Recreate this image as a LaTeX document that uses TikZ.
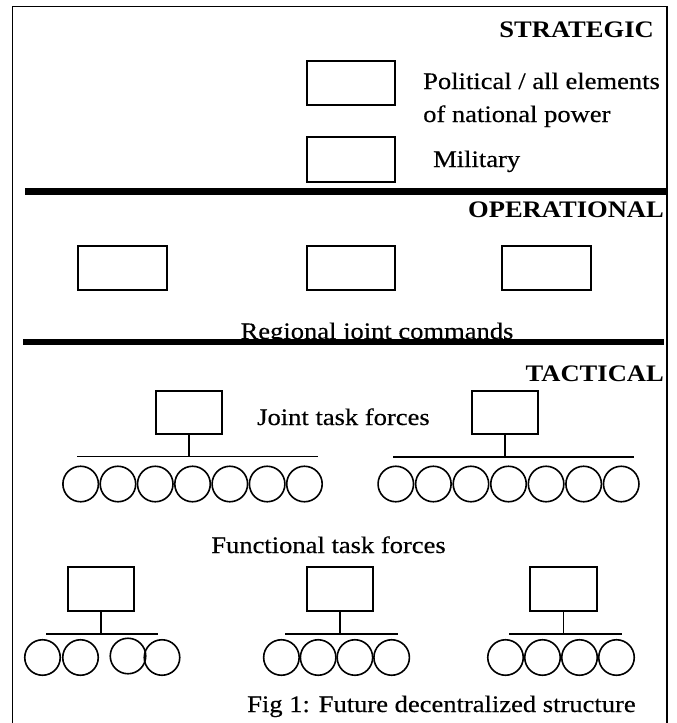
\documentclass[tikz,border=0pt]{standalone}
\usepackage{fontspec}
\setmainfont[FakeStretch=1.12]{Liberation Serif}
\newfontfamily\regfont[FakeStretch=1.12,FakeBold=0.4]{Liberation Serif}
\begin{document}
\begin{tikzpicture}[x=1pt,y=-1pt,
  lbl/.style={inner sep=0pt,font=\regfont\fontsize{23.7}{28}\selectfont},
  blbl/.style={inner sep=0pt,font=\fontsize{23.7}{28}\selectfont\bfseries},
  ubox/.style={draw,line width=1.7pt,minimum width=#1,inner sep=0pt},
  ubox/.default=88pt,
  unit/.style={draw,circle,line width=1.6pt,minimum size=35.5pt,inner sep=0pt},
  thin/.style={line width=1.6pt},
  thick/.style={line width=6.5pt}]
\useasboundingbox (0,0) rectangle (677,723);
% frame
\draw[thin] (12.5,723) -- (12.5,6.5) -- (667,6.5) -- (667,723);
% level separators
\coordinate (s1l) at (25,191.5);  \coordinate (s1r) at (666,191.5);
\coordinate (s2l) at (23,342);    \coordinate (s2r) at (664,342);
\draw[thick] (s1l) -- (s1r);
\draw[thick] (s2l) -- (s2r);
% level titles
\node[blbl,anchor=base east] (strat) at (654,37) {STRATEGIC};
\node[blbl,anchor=base east] (oper) at (664,217) {OPERATIONAL};
\node[blbl,anchor=base east] (tact) at (664,381) {TACTICAL};
% strategic
\node[ubox,minimum height=44pt] (pbox) at (351,83) {};
\node[ubox,minimum height=45pt] (mbox) at (351,159.5) {};
\node[lbl,anchor=base west] (pol1) at (423,89) {Political / all elements};
\node[lbl,anchor=base west] (pol2) at (423,122) {of national power};
\node[lbl,anchor=base west] (mil) at (433,167) {Military};
% operational
\node[ubox=89pt,minimum height=44pt] (r1) at (122.5,268) {};
\node[ubox=88pt,minimum height=44pt] (r2) at (351,268) {};
\node[ubox=89pt,minimum height=44pt] (r3) at (546.5,268) {};
\node[lbl,anchor=base] (reg) at (377,339) {Regional joint commands};
% tactical: joint task forces
\node[ubox=66pt,minimum height=43pt] (j1) at (189,412.5) {};
\node[ubox=66pt,minimum height=43pt] (j2) at (505,412.5) {};
\node[lbl,anchor=base west] (jtf) at (257,425) {Joint task forces};
\coordinate (j1l) at (77,456.5);  \coordinate (j1r) at (318,456.5);
\coordinate (j2l) at (393,457);   \coordinate (j2r) at (634,457);
\draw[thin] (j1l) -- (j1r);
\draw[thin] (j2l) -- (j2r);
\draw[thin] (j1.south) -- (j1.south |- j1l);
\draw[thin] (j2.south) -- (j2.south |- j2l);
\foreach \k in {0,...,6}{
  \node[unit] (ja\k) at ({80.65+37.3*\k},484) {};
  \node[unit] (jb\k) at ({395.8+37.57*\k},484) {};
}
% functional task forces
\node[lbl,anchor=base] (ftf) at (328.5,553) {Functional task forces};
\node[ubox=66pt,minimum height=44pt] (f1) at (101,589) {};
\node[ubox=66pt,minimum height=44pt] (f2) at (340,589) {};
\node[ubox=67pt,minimum height=44pt] (f3) at (563.5,589) {};
\coordinate (f1l) at (46,634);  \coordinate (f1r) at (158,634);
\coordinate (f2l) at (285,634); \coordinate (f2r) at (398,634);
\coordinate (f3l) at (509,634); \coordinate (f3r) at (622,634);
\draw[thin] (f1l) -- (f1r);
\draw[thin] (f2l) -- (f2r);
\draw[thin] (f3l) -- (f3r);
\draw[thin] (f1.south) -- (f1.south |- f1l);
\draw[thin] (f2.south) -- (f2.south |- f2l);
\draw[thin] (f3.south) -- (f3.south |- f3l);
\node[unit] (fa0) at (42.5,657.5) {};
\node[unit] (fa1) at (80.5,657.5) {};
\node[unit] (fa2) at (128,656) {};
\node[unit] (fa3) at (162,657.5) {};
\foreach \k in {0,...,3}{
  \node[unit] (fb\k) at ({281.4+36.75*\k},657.5) {};
  \node[unit] (fc\k) at ({505.5+37*\k},657.5) {};
}
% caption
\node[lbl,anchor=base west] (cap) at (247,712) {Fig 1: Future decentralized structure};
\end{tikzpicture}
\end{document}
